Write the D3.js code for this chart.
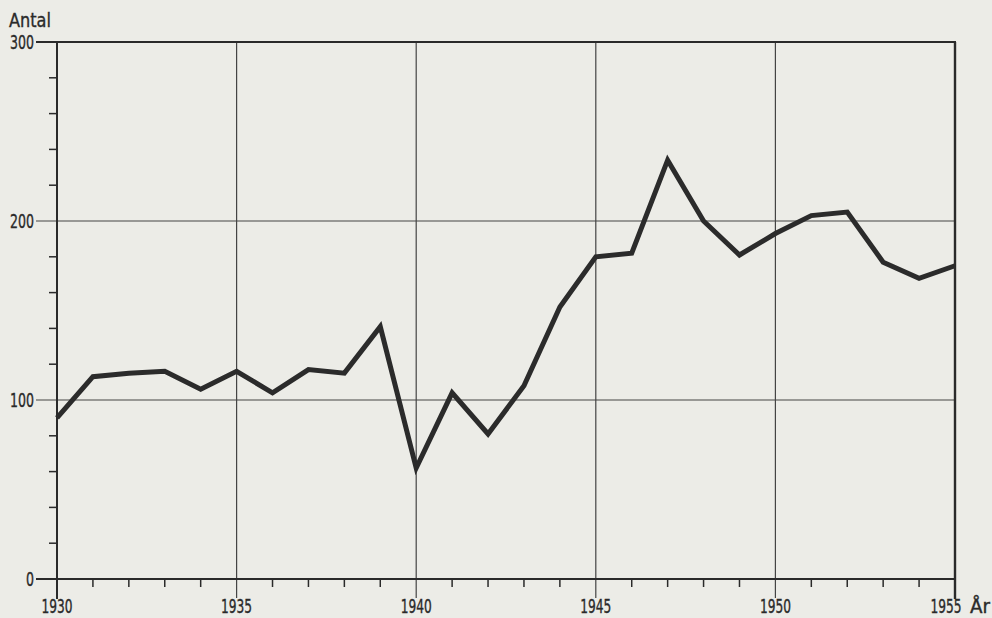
<!DOCTYPE html>
<html>
<head>
<meta charset="utf-8">
<script src="https://cdn.jsdelivr.net/npm/d3@7"></script>
<style>
  body { margin: 0; background: #ecece7; }
  svg { display: block; }
  text { font-family: 'DejaVu Sans', sans-serif; font-stretch: condensed; fill: #2a2a2a; stroke: #2a2a2a; stroke-width: 0.35; }
</style>
</head>
<body>
<div id="chart"></div>
<script>
var years = d3.range(1930, 1956)
var antal = [90, 113, 115, 116, 106, 116, 104, 117, 115, 141, 62, 104, 81, 108,
  152, 180, 182, 234, 200, 181, 193, 203, 205, 177, 168, 175]
var yTicks = [0, 100, 200, 300]
var xTicks = [1930, 1935, 1940, 1945, 1950, 1955]

var width = 992
var height = 618

var svg = d3
  .select('#chart')
  .append('svg')
  .attr('width', width)
  .attr('height', height)

var xPositionScale = d3
  .scaleLinear()
  .domain([1930, 1955])
  .range([57, 955])

var yPositionScale = d3
  .scaleLinear()
  .domain([0, 300])
  .range([579, 42])

var ink = '#2a2a2a'

// grid lines
svg
  .selectAll('.hgrid')
  .data([100, 200])
  .enter()
  .append('line')
  .attr('x1', 36)
  .attr('x2', xPositionScale(1955))
  .attr('y1', d => yPositionScale(d))
  .attr('y2', d => yPositionScale(d))
  .attr('stroke', '#444')
  .attr('stroke-width', 1.2)

svg
  .selectAll('.vgrid')
  .data([1935, 1940, 1945, 1950])
  .enter()
  .append('line')
  .attr('x1', d => xPositionScale(d))
  .attr('x2', d => xPositionScale(d))
  .attr('y1', yPositionScale(300))
  .attr('y2', 598)
  .attr('stroke', '#444')
  .attr('stroke-width', 1.2)

// frame: top, bottom, left, right
svg.append('line')
  .attr('x1', 36).attr('x2', xPositionScale(1955) + 1)
  .attr('y1', yPositionScale(300)).attr('y2', yPositionScale(300))
  .attr('stroke', ink).attr('stroke-width', 2)
svg.append('line')
  .attr('x1', 36).attr('x2', xPositionScale(1955) + 1)
  .attr('y1', yPositionScale(0)).attr('y2', yPositionScale(0))
  .attr('stroke', ink).attr('stroke-width', 2)
svg.append('line')
  .attr('x1', xPositionScale(1930)).attr('x2', xPositionScale(1930))
  .attr('y1', yPositionScale(300)).attr('y2', 599)
  .attr('stroke', ink).attr('stroke-width', 2)
svg.append('line')
  .attr('x1', xPositionScale(1955)).attr('x2', xPositionScale(1955))
  .attr('y1', yPositionScale(300)).attr('y2', 599)
  .attr('stroke', ink).attr('stroke-width', 2.4)

// minor ticks
svg
  .selectAll('.ytick')
  .data(d3.range(20, 300, 20).filter(d => d % 100 !== 0))
  .enter()
  .append('line')
  .attr('x1', 49)
  .attr('x2', xPositionScale(1930))
  .attr('y1', d => yPositionScale(d))
  .attr('y2', d => yPositionScale(d))
  .attr('stroke', ink)
  .attr('stroke-width', 1.5)

svg
  .selectAll('.xtick')
  .data(years.filter(d => d % 5 !== 0))
  .enter()
  .append('line')
  .attr('x1', d => xPositionScale(d))
  .attr('x2', d => xPositionScale(d))
  .attr('y1', yPositionScale(0))
  .attr('y2', 587)
  .attr('stroke', ink)
  .attr('stroke-width', 1.5)

// labels (squeezed to the narrow type of the original)
svg
  .selectAll('.ylabel')
  .data(yTicks)
  .enter()
  .append('text')
  .attr('x', 34)
  .attr('y', d => yPositionScale(d) + 7)
  .attr('text-anchor', 'end')
  .attr('font-size', 20)
  .attr('textLength', d => String(d).length * 8)
  .attr('lengthAdjust', 'spacingAndGlyphs')
  .text(d => d)

svg
  .selectAll('.xlabel')
  .data(xTicks)
  .enter()
  .append('text')
  .attr('y', 613)
  .attr('font-size', 19)
  .each(function(d) {
    let t = d3.select(this)
    t.append('tspan')
      .attr('x', xPositionScale(d) - (d === 1955 ? 9 : 0))
      .attr('text-anchor', 'middle')
      .attr('textLength', 31)
      .attr('lengthAdjust', 'spacingAndGlyphs')
      .text(d)
    // unit of the x axis follows the last year
    if (d === 1955) {
      t.append('tspan')
        .attr('x', 970)
        .attr('text-anchor', 'start')
        .attr('textLength', 20)
        .attr('lengthAdjust', 'spacingAndGlyphs')
        .text('År')
    }
  })

svg.append('text')
  .attr('x', 9)
  .attr('y', 27)
  .attr('font-size', 20)
  .attr('textLength', 42)
  .attr('lengthAdjust', 'spacingAndGlyphs')
  .text('Antal')

// data line
var line = d3
  .line()
  .x((d, i) => xPositionScale(years[i]))
  .y(d => yPositionScale(d))

svg
  .append('path')
  .datum(antal)
  .attr('d', line)
  .attr('fill', 'none')
  .attr('stroke', '#2b2b2b')
  .attr('stroke-width', 5)
  .attr('stroke-linejoin', 'miter')
</script>
</body>
</html>
